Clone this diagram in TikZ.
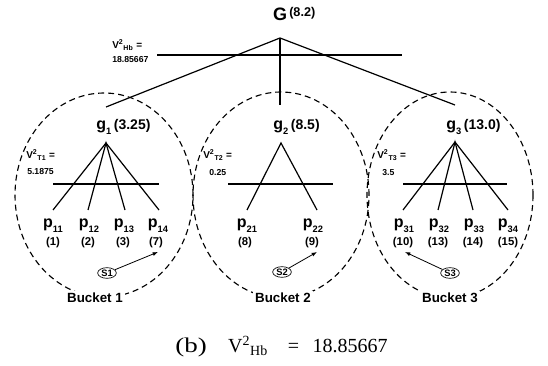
\documentclass[tikz,border=0pt]{standalone}
\usepackage{fontspec}
\usepackage{graphicx}
\setmainfont{Liberation Serif}
\setsansfont{Liberation Sans}
\usetikzlibrary{arrows.meta,shapes.geometric}
\newcommand\myfs[1]{\fontsize{#1}{#1}\selectfont}
\newcommand\mylsub[1]{\raisebox{-0.28em}{\myfs{7}#1}}
\newcommand\myVsq[1]{V\textsuperscript{2}\textsubscript{#1}}
\begin{document}
\begin{tikzpicture}[x=0.75pt,y=-0.75pt,
  lab/.style={font=\sffamily\bfseries, inner sep=0pt},
  plab/.style={lab, anchor=base},
  vallab/.style={lab, anchor=base, font=\sffamily\bfseries\myfs{8.5}},
  glab/.style={lab, anchor=base west},
  vlab/.style={lab, anchor=west, font=\sffamily\bfseries\myfs{7.5}},
  numlab/.style={lab, anchor=west, font=\sffamily\bfseries\myfs{6.5}},
  tree/.style={line width=0.9pt},
  hline/.style={line width=0.8pt},
  bucket/.style={dash pattern=on 4.5pt off 3pt, line width=0.85pt},
  blab/.style={lab, fill=white, inner sep=1.5pt, font=\sffamily\bfseries\myfs{10}},
  snode/.style={ellipse, draw, line width=0.5pt, inner sep=0.3pt, minimum width=14pt, minimum height=8pt, font=\sffamily\bfseries\myfs{7}},
  sarrow/.style={line width=0.6pt, -{Latex[length=4pt,width=3pt]}}]
\useasboundingbox (0,0) rectangle (548,366);

% bucket ellipses
\draw[bucket] (104,195) ellipse [x radius=66.75pt, y radius=76.5pt];
\draw[bucket] (281,195) ellipse [x radius=66pt, y radius=77.25pt];
\draw[bucket] (450,195) ellipse [x radius=62.25pt, y radius=77.25pt];
\node[blab] (b1) at (95,298) {Bucket 1};
\node[blab] (b2) at (283,298) {Bucket 2};
\node[blab] (b3) at (450,298) {Bucket 3};

% top level
\node[lab, anchor=base] (G) at (280,21) {\myfs{13.5}G};
\node[lab, anchor=base west] (Gv) at (289,17) {\myfs{9.5}(8.2)};
\coordinate (ga) at (280,38);
\coordinate (g1t) at (106,107);
\coordinate (g2t) at (280,105);
\coordinate (g3t) at (455,105);
\draw[tree] (g1t) -- (ga) -- (g3t);
\draw[tree] (ga) -- (g2t);
\coordinate (hbl) at (157,55);
\coordinate (hbr) at (402,55);
\draw[hline] (hbl) -- (hbr);
\node[vlab] (vhb) at (112,45) {\myVsq{Hb} =};
\node[numlab] (nhb) at (112,60) {18.85667};

% bucket 1
\node[glab] (g1) at (96,130) {\myfs{12}g\mylsub{1}\,\myfs{10.5}(3.25)};
\coordinate (a1) at (106,143);
\coordinate (t11) at (53,210);
\coordinate (t12) at (88,210);
\coordinate (t13) at (125,210);
\coordinate (t14) at (159,210);
\draw[tree] (t11) -- (a1) -- (t14);
\draw[tree] (t12) -- (a1) -- (t13);
\coordinate (h1l) at (53,184);
\coordinate (h1r) at (159,184);
\draw[hline] (h1l) -- (h1r);
\node[vlab] (v1) at (26,155) {\myVsq{T1} =};
\node[numlab] (n1) at (27,172) {5.1875};
\node[plab] (p11) at (53,228) {\myfs{12}p\mylsub{11}};
\node[plab] (p12) at (89,228) {\myfs{12}p\mylsub{12}};
\node[plab] (p13) at (124,228) {\myfs{12}p\mylsub{13}};
\node[plab] (p14) at (158,228) {\myfs{12}p\mylsub{14}};
\node[vallab] (q11) at (53,245) {(1)};
\node[vallab] (q12) at (88,245) {(2)};
\node[vallab] (q13) at (123,245) {(3)};
\node[vallab] (q14) at (156,245) {(7)};
\node[snode] (s1) at (107,273) {S1};
\coordinate (e1) at (158,252);
\draw[sarrow] (s1) -- (e1);

% bucket 2
\node[glab] (g2) at (273,130) {\myfs{12}g\mylsub{2}\,\myfs{10.5}(8.5)};
\coordinate (a2) at (281,143);
\coordinate (t21) at (247,210);
\coordinate (t22) at (317,210);
\draw[tree] (t21) -- (a2) -- (t22);
\coordinate (h2l) at (228,184);
\coordinate (h2r) at (333,184);
\draw[hline] (h2l) -- (h2r);
\node[vlab] (v2) at (203,155) {\myVsq{T2} =};
\node[numlab] (n2) at (209,173) {0.25};
\node[plab] (p21) at (247,228) {\myfs{12}p\mylsub{21}};
\node[plab] (p22) at (313,228) {\myfs{12}p\mylsub{22}};
\node[vallab] (q21) at (245,245) {(8)};
\node[vallab] (q22) at (312,245) {(9)};
\node[snode] (s2) at (282,272) {S2};
\coordinate (e2) at (317,252);
\draw[sarrow] (s2) -- (e2);

% bucket 3
\node[glab] (g3) at (446,130) {\myfs{12}g\mylsub{3}\,\myfs{10.5}(13.0)};
\coordinate (a3) at (455,142);
\coordinate (t31) at (403,210);
\coordinate (t32) at (438,210);
\coordinate (t33) at (473,210);
\coordinate (t34) at (508,210);
\draw[tree] (t31) -- (a3) -- (t34);
\draw[tree] (t32) -- (a3) -- (t33);
\coordinate (h3l) at (403,184);
\coordinate (h3r) at (507,184);
\draw[hline, line width=1.2pt] (h3l) -- (h3r);
\node[vlab] (v3) at (377,155) {\myVsq{T3} =};
\node[numlab] (n3) at (382,173) {3.5};
\node[plab] (p31) at (404,228) {\myfs{12}p\mylsub{31}};
\node[plab] (p32) at (439,228) {\myfs{12}p\mylsub{32}};
\node[plab] (p33) at (474,228) {\myfs{12}p\mylsub{33}};
\node[plab] (p34) at (508,228) {\myfs{12}p\mylsub{34}};
\node[vallab] (q31) at (403,245) {(10)};
\node[vallab] (q32) at (438,245) {(13)};
\node[vallab] (q33) at (473,245) {(14)};
\node[vallab] (q34) at (508,245) {(15)};
\node[snode] (s3) at (450,273) {S3};
\coordinate (e3) at (405,252);
\draw[sarrow] (s3) -- (e3);

% caption
\node[inner sep=0pt, anchor=base west, font=\myfs{15}] (cap) at (175,352)
  {\scalebox{1.35}[1.05]{(b)}\hspace{16pt}\myVsq{Hb}\hspace{15pt}=\hspace{10pt}18.85667};
\end{tikzpicture}
\end{document}
